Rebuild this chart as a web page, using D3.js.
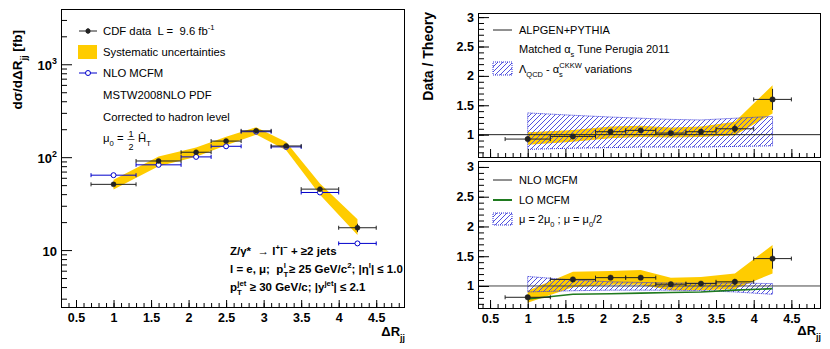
<!DOCTYPE html>
<html>
<head>
<meta charset="utf-8">
<script src="https://cdn.jsdelivr.net/npm/d3@7"></script>
<style>
  body { margin: 0; background: #fff; }
  svg text { font-family: "Liberation Sans", Arial, Helvetica, sans-serif; white-space: pre; }
</style>
</head>
<body>
<div id="chart"></div>
<script>
// bins in Delta R_jj
var binCenters = [1, 1.6, 2.1, 2.5, 2.9, 3.3, 3.75, 4.25];
var binLow = [0.7, 1.3, 1.9, 2.3, 2.7, 3.1, 3.5, 4.0];
var binHigh = [1.3, 1.9, 2.3, 2.7, 3.1, 3.5, 4.0, 4.5];

// left panel: cross section [fb]
var cdfXsec = [51, 91, 113, 149, 192, 132, 45.3, 17.4];
var cdfStat = [2, 3, 3.5, 4.5, 5, 4, 2, 1.8];
var sysLow = [45, 80, 101, 134, 175, 119, 39.5, 14.5];
var sysHigh = [57, 102, 127, 166, 210, 146, 52, 21.5];
var nloXsec = [64, 82.7, 100.7, 131, 188, 129, 41.7, 11.8];

// top ratio: data / ALPGEN+PYTHIA
var alpRatio = [0.925, 0.97, 1.05, 1.073, 1.027, 1.05, 1.10, 1.60];
var alpErr = [0.04, 0.04, 0.04, 0.04, 0.035, 0.04, 0.07, 0.18];
var alpSysLow = [0.83, 0.88, 0.94, 0.96, 0.95, 0.96, 0.99, 1.36];
var alpSysHigh = [1.04, 1.08, 1.14, 1.15, 1.12, 1.14, 1.22, 1.84];
var alpVarLow = [0.75, 0.77, 0.78, 0.79, 0.79, 0.79, 0.80, 0.81];
var alpVarHigh = [1.37, 1.33, 1.30, 1.28, 1.26, 1.25, 1.28, 1.31];

// bottom ratio: data / NLO MCFM
var nloRatio = [0.81, 1.11, 1.14, 1.14, 1.03, 1.04, 1.07, 1.46];
var nloErr = [0.03, 0.04, 0.04, 0.04, 0.03, 0.035, 0.05, 0.17];
var nloSysLow = [0.72, 0.98, 1.02, 1.02, 0.93, 0.93, 0.95, 1.21];
var nloSysHigh = [0.92, 1.24, 1.25, 1.27, 1.14, 1.15, 1.21, 1.69];
var scaleLow = [0.90, 0.92, 0.93, 0.93, 0.93, 0.92, 0.90, 0.86];
var scaleHigh = [1.16, 1.10, 1.07, 1.06, 1.05, 1.05, 1.05, 1.04];
var loRatio = [0.78, 0.86, 0.87, 0.88, 0.89, 0.90, 0.93, 0.955];

var xTicks = [0.5, 1, 1.5, 2, 2.5, 3, 3.5, 4, 4.5];
var ratioTicks = [1, 1.5, 2, 2.5, 3];
var logTicks = [10, 100, 1000];

var width = 830, height = 349;
var yellow = "#ffcc00", blue = "#0000cc", green = "#1f7a1f", hatchBlue = "#3030d8";

var svg = d3.select("#chart").append("svg")
    .attr("width", width)
    .attr("height", height);

// one hatch pattern shared by both ratio panels
svg.append("defs").append("pattern")
    .attr("id", "hatch")
    .attr("patternUnits", "userSpaceOnUse")
    .attr("width", 5).attr("height", 5)
  .append("path")
    .attr("d", "M-1,1 l2,-2 M0,5 l5,-5 M4,6 l2,-2")
    .attr("stroke", "#5050e0")
    .attr("stroke-width", 1);

// scales
var xL = d3.scaleLinear().domain([0.3, 4.87]).range([61, 404]);
var yL = d3.scaleLog().domain([2.44, 3935]).range([307, 9]);
var xR = d3.scaleLinear().domain([0.34, 4.88]).range([478, 820]);
var yT = d3.scaleLinear().domain([0.62, 3.07]).range([157, 13]);
var yB = d3.scaleLinear().domain([0.63, 3.1]).range([308, 161]);

var idx = d3.range(binCenters.length);

// rich text with sub / superscripts
function rich(t, parts, size) {
  var shift = 0;
  parts.forEach(function(p) {
    var target = p[1] === "sub" ? size * 0.35 : p[1] === "sup" ? -size * 0.42 : 0;
    var ts = t.append("tspan")
        .attr("dy", target - shift)
        .style("font-size", (p[1] ? size * 0.68 : size) + "px")
        .text(p[0]);
    if (p[2]) ts.attr("dx", p[2]);
    shift = target;
  });
  return t;
}

function frame(x, y) {
  svg.append("rect")
      .attr("x", x.range()[0] + 0.5)
      .attr("y", y.range()[1] + 0.5)
      .attr("width", x.range()[1] - x.range()[0])
      .attr("height", y.range()[0] - y.range()[1])
      .attr("fill", "none")
      .attr("stroke", "#000")
      .attr("stroke-width", 1);
}

function xAxis(x, y, labels, major, minor) {
  var minorVals = d3.range(4, 49).map(function(d) { return d / 10; })
      .filter(function(d) { return x(d) > x.range()[0] + 1 && x(d) < x.range()[1] - 1; });
  svg.append("g")
      .attr("transform", "translate(0," + y.range()[0] + ")")
      .call(d3.axisBottom(x).tickValues(minorVals).tickSize(-minor).tickFormat(""))
      .call(function(g) { g.select(".domain").remove(); });
  var ax = svg.append("g")
      .attr("transform", "translate(0," + y.range()[0] + ")")
      .call(d3.axisBottom(x).tickValues(xTicks).tickSize(-major).tickPadding(6)
        .tickFormat(labels ? d3.format("") : ""));
  ax.select(".domain").remove();
  ax.selectAll("text")
      .style("font-size", "12.5px")
      .style("font-weight", "bold")
      .attr("fill", "#000");
}

function ratioAxis(x, y) {
  var minorVals = d3.range(7, 31).map(function(d) { return d / 10; })
      .filter(function(d) { return y(d) < y.range()[0] - 1 && y(d) > y.range()[1] + 1; });
  svg.append("g")
      .attr("transform", "translate(" + x.range()[0] + ",0)")
      .call(d3.axisLeft(y).tickValues(minorVals).tickSize(-6).tickFormat(""))
      .call(function(g) { g.select(".domain").remove(); });
  var ax = svg.append("g")
      .attr("transform", "translate(" + x.range()[0] + ",0)")
      .call(d3.axisLeft(y).tickValues(ratioTicks).tickSize(-11).tickPadding(4).tickFormat(d3.format("")));
  ax.select(".domain").remove();
  ax.selectAll("text")
      .style("font-size", "12.5px")
      .style("font-weight", "bold")
      .attr("fill", "#000");
}

function band(x, y, lo, hi, fill, stroke) {
  var area = d3.area()
      .x(function(i) { return x(binCenters[i]); })
      .y0(function(i) { return y(lo[i]); })
      .y1(function(i) { return y(hi[i]); });
  var p = svg.append("path").datum(idx)
      .attr("d", area)
      .attr("fill", fill);
  if (stroke) {
    p.attr("stroke", stroke).attr("stroke-width", 1).attr("stroke-dasharray", "1,1");
  }
}

function points(x, y, vals, lo, hi, color, open, r) {
  var g = svg.append("g");
  var capH = 2;
  idx.forEach(function(i) {
    var cy = y(vals[i]);
    g.append("line")
        .attr("x1", x(binLow[i])).attr("x2", x(binHigh[i]))
        .attr("y1", cy).attr("y2", cy)
        .attr("stroke", color).attr("stroke-width", 1);
    [binLow[i], binHigh[i]].forEach(function(e) {
      g.append("line")
          .attr("x1", x(e)).attr("x2", x(e))
          .attr("y1", cy - capH).attr("y2", cy + capH)
          .attr("stroke", color).attr("stroke-width", 1);
    });
    if (lo) {
      g.append("line")
          .attr("x1", x(binCenters[i])).attr("x2", x(binCenters[i]))
          .attr("y1", y(lo[i])).attr("y2", y(hi[i]))
          .attr("stroke", color).attr("stroke-width", 1);
    }
    g.append("circle")
        .attr("cx", x(binCenters[i])).attr("cy", cy)
        .attr("r", r)
        .attr("fill", open ? "#fff" : color)
        .attr("stroke", open ? blue : color)
        .attr("stroke-width", open ? 1 : 0.5);
  });
}

// ---------------- left panel ----------------
band(xL, yL, sysLow, sysHigh, yellow);
points(xL, yL, nloXsec, null, null, blue, true, 2.5);
points(xL, yL, cdfXsec,
  cdfXsec.map(function(v, i) { return v - cdfStat[i]; }),
  cdfXsec.map(function(v, i) { return v + cdfStat[i]; }),
  "#222", false, 2.5);

frame(xL, yL);
xAxis(xL, yL, true, 7, 4);

// log y axis
var logMinor = [];
[1, 10, 100, 1000].forEach(function(dec) {
  d3.range(2, 10).forEach(function(k) {
    var v = dec * k;
    if (v > yL.domain()[0] && v < yL.domain()[1]) logMinor.push(v);
  });
});
svg.append("g")
    .attr("transform", "translate(" + xL.range()[0] + ",0)")
    .call(d3.axisLeft(yL).tickValues(logMinor).tickSize(-6).tickFormat(""))
    .call(function(g) { g.select(".domain").remove(); });
var ly = svg.append("g")
    .attr("transform", "translate(" + xL.range()[0] + ",0)")
    .call(d3.axisLeft(yL).tickValues(logTicks).tickSize(-11).tickPadding(4).tickFormat(""));
ly.select(".domain").remove();
ly.selectAll(".tick").each(function(d) {
  var t = d3.select(this).append("text")
      .attr("x", -4).attr("y", 5)
      .attr("text-anchor", "end")
      .attr("fill", "#000")
      .style("font-weight", "bold");
  var e = Math.round(Math.log10(d));
  if (e === 1) rich(t, [["10"]], 13);
  else rich(t, [["10"], [String(e), "sup"]], 13);
});

// axis titles
rich(svg.append("text")
    .attr("transform", "translate(22,30) rotate(-90)")
    .attr("text-anchor", "end")
    .style("font-weight", "bold"),
  [["dσ/dΔR"], ["jj", "sub"], [" [fb]"]], 13.5);
rich(svg.append("text")
    .attr("x", 405).attr("y", 336)
    .attr("text-anchor", "end")
    .style("font-weight", "bold"),
  [["ΔR"], ["jj", "sub"]], 13);

// left legend
var lg = svg.append("g");
lg.append("line").attr("x1", 79).attr("x2", 97).attr("y1", 31).attr("y2", 31).attr("stroke", "#222");
lg.append("line").attr("x1", 88).attr("x2", 88).attr("y1", 28).attr("y2", 34).attr("stroke", "#222");
lg.append("circle").attr("cx", 88).attr("cy", 31).attr("r", 2.5).attr("fill", "#222");
lg.append("rect").attr("x", 78).attr("y", 45).attr("width", 19).attr("height", 14).attr("fill", yellow);
lg.append("line").attr("x1", 79).attr("x2", 97).attr("y1", 73).attr("y2", 73).attr("stroke", blue);
lg.append("circle").attr("cx", 88).attr("cy", 73).attr("r", 2.5).attr("fill", "#fff").attr("stroke", blue);

var fs = 11.3;
rich(lg.append("text").attr("x", 103).attr("y", 35),
  [["CDF data  L =  9.6 fb"], ["-1", "sup"]], fs);
lg.append("text").attr("x", 103).attr("y", 56).style("font-size", fs + "px").text("Systematic uncertainties");
lg.append("text").attr("x", 103).attr("y", 77).style("font-size", fs + "px").text("NLO MCFM");
lg.append("text").attr("x", 103).attr("y", 99).style("font-size", fs + "px").text("MSTW2008NLO PDF");
lg.append("text").attr("x", 103).attr("y", 121).style("font-size", fs + "px").text("Corrected to hadron level");
rich(lg.append("text").attr("x", 103).attr("y", 142), [["μ"], ["0", "sub"], [" ="]], fs);
lg.append("text").attr("x", 131).attr("y", 137).attr("text-anchor", "middle").style("font-size", "9px").text("1");
lg.append("line").attr("x1", 127.5).attr("x2", 134.5).attr("y1", 139.5).attr("y2", 139.5).attr("stroke", "#000").attr("stroke-width", 0.7);
lg.append("text").attr("x", 131).attr("y", 149.5).attr("text-anchor", "middle").style("font-size", "9px").text("2");
rich(lg.append("text").attr("x", 138).attr("y", 142), [["Ĥ"], ["T", "sub"]], fs);

// selection text
var sel = svg.append("g").style("font-weight", "bold");
var bs = 11.5;
rich(sel.append("text").attr("x", 230).attr("y", 255),
  [["Z/γ*  → l"], ["+", "sup"], ["l"], ["−", "sup"], [" + ≥2 jets"]], bs);
rich(sel.append("text").attr("x", 230).attr("y", 273),
  [["l = e, μ;  p"], ["T", "sub"], ["l", "sup", -4.5], [" ≥ 25 GeV/c"], ["2", "sup"], ["; |η"], ["l", "sup"], ["| ≤ 1.0"]], bs);
rich(sel.append("text").attr("x", 230).attr("y", 291),
  [["p"], ["T", "sub"], ["jet", "sup", -4.5], [" ≥ 30 GeV/c; |y"], ["jet", "sup"], ["| ≤ 2.1"]], bs);

// ---------------- top ratio panel ----------------
band(xR, yT, alpSysLow, alpSysHigh, yellow);
band(xR, yT, alpVarLow, alpVarHigh, "url(#hatch)", hatchBlue);
svg.append("line")
    .attr("x1", xR.range()[0]).attr("x2", xR.range()[1])
    .attr("y1", yT(1)).attr("y2", yT(1))
    .attr("stroke", "#222").attr("stroke-width", 1);
points(xR, yT, alpRatio,
  alpRatio.map(function(v, i) { return v - alpErr[i]; }),
  alpRatio.map(function(v, i) { return v + alpErr[i]; }),
  "#222", false, 2.7);
frame(xR, yT);
xAxis(xR, yT, false, 8, 4);
ratioAxis(xR, yT);

var rs = 11;
var tg = svg.append("g");
tg.append("line").attr("x1", 493).attr("x2", 512).attr("y1", 30).attr("y2", 30).attr("stroke", "#222");
tg.append("text").attr("x", 519).attr("y", 34).style("font-size", rs + "px").text("ALPGEN+PYTHIA");
rich(tg.append("text").attr("x", 519).attr("y", 53),
  [["Matched α"], ["s", "sub"], [" Tune Perugia 2011"]], rs);
tg.append("rect").attr("x", 493).attr("y", 62).attr("width", 19).attr("height", 13)
    .attr("fill", "url(#hatch)").attr("stroke", hatchBlue).attr("stroke-dasharray", "1,1");
rich(tg.append("text").attr("x", 519).attr("y", 73),
  [["Λ"], ["QCD", "sub"], [" - α"], ["s", "sub"], ["CKKW", "sup", -3.5], [" variations"]], rs);

// ---------------- bottom ratio panel ----------------
band(xR, yB, nloSysLow, nloSysHigh, yellow);
band(xR, yB, scaleLow, scaleHigh, "url(#hatch)", hatchBlue);
svg.append("line")
    .attr("x1", xR.range()[0]).attr("x2", xR.range()[1])
    .attr("y1", yB(1)).attr("y2", yB(1))
    .attr("stroke", "#444").attr("stroke-width", 1);
svg.append("path").datum(idx)
    .attr("d", d3.line()
      .x(function(i) { return xR(binCenters[i]); })
      .y(function(i) { return yB(loRatio[i]); }))
    .attr("fill", "none")
    .attr("stroke", green)
    .attr("stroke-width", 1.6);
points(xR, yB, nloRatio,
  nloRatio.map(function(v, i) { return v - nloErr[i]; }),
  nloRatio.map(function(v, i) { return v + nloErr[i]; }),
  "#222", false, 2.7);
frame(xR, yB);
xAxis(xR, yB, true, 8, 4);
ratioAxis(xR, yB);

var bg = svg.append("g");
bg.append("line").attr("x1", 493).attr("x2", 512).attr("y1", 180).attr("y2", 180).attr("stroke", "#222");
bg.append("text").attr("x", 519).attr("y", 184).style("font-size", rs + "px").text("NLO MCFM");
bg.append("line").attr("x1", 493).attr("x2", 512).attr("y1", 200).attr("y2", 200).attr("stroke", green).attr("stroke-width", 2);
bg.append("text").attr("x", 519).attr("y", 204).style("font-size", rs + "px").text("LO MCFM");
bg.append("rect").attr("x", 493).attr("y", 213).attr("width", 19).attr("height", 12)
    .attr("fill", "url(#hatch)").attr("stroke", hatchBlue).attr("stroke-dasharray", "1,1");
rich(bg.append("text").attr("x", 519).attr("y", 223),
  [["μ = 2μ"], ["0", "sub"], [" ; μ = μ"], ["0", "sub"], ["/2"]], rs);

// right axis titles
svg.append("text")
    .attr("transform", "translate(433,12) rotate(-90)")
    .attr("text-anchor", "end")
    .style("font-weight", "bold")
    .style("font-size", "14px")
    .text("Data / Theory");
rich(svg.append("text")
    .attr("x", 821).attr("y", 335)
    .attr("text-anchor", "end")
    .style("font-weight", "bold"),
  [["ΔR"], ["jj", "sub"]], 13);
</script>
</body>
</html>
